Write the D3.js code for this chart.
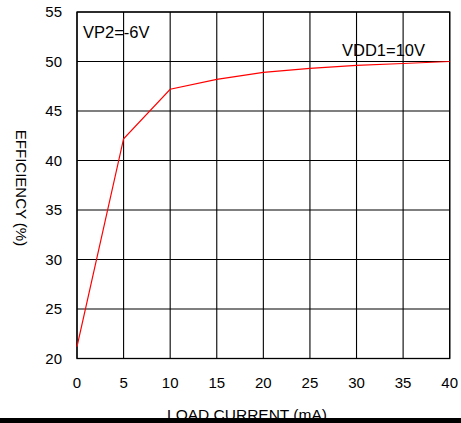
<!DOCTYPE html>
<html>
<head>
<meta charset="utf-8">
<script src="https://cdn.jsdelivr.net/npm/d3@7"></script>
<style>
  body { margin: 0; background: #fff; }
  svg { display: block; font-family: "Liberation Sans", Arial, sans-serif; }
</style>
</head>
<body>
<div id="chart"></div>
<script>
// Data
const loadCurrent = [0, 5, 10, 15, 20, 25, 30, 35, 40];
const efficiency = [21.2, 42.2, 47.2, 48.2, 48.9, 49.3, 49.6, 49.8, 50.0];
const xTicks = [0, 5, 10, 15, 20, 25, 30, 35, 40];
const yTicks = [20, 25, 30, 35, 40, 45, 50, 55];

const width = 461, height = 423;
const margin = { left: 77, right: 11.3, top: 12, bottom: 64.5 };

const svg = d3.select('#chart').append('svg')
    .attr('width', width)
    .attr('height', height);

const x = d3.scaleLinear().domain([0, 40]).range([margin.left, width - margin.right]);
const y = d3.scaleLinear().domain([20, 55]).range([height - margin.bottom, margin.top]);

// Grid
svg.append('g')
    .selectAll('line')
    .data(xTicks)
    .join('line')
    .attr('x1', d => x(d)).attr('x2', d => x(d))
    .attr('y1', y(20)).attr('y2', y(55))
    .attr('stroke', '#000').attr('stroke-width', 1.1);

svg.append('g')
    .selectAll('line')
    .data(yTicks)
    .join('line')
    .attr('x1', x(0)).attr('x2', x(40))
    .attr('y1', d => y(d)).attr('y2', d => y(d))
    .attr('stroke', '#000').attr('stroke-width', 1.1);

// Frame
svg.append('rect')
    .attr('x', x(0)).attr('y', y(55))
    .attr('width', x(40) - x(0)).attr('height', y(20) - y(55))
    .attr('fill', 'none').attr('stroke', '#000').attr('stroke-width', 1.3);

// Tick labels
svg.append('g')
    .selectAll('text')
    .data(yTicks)
    .join('text')
    .attr('x', 62).attr('y', d => y(d))
    .attr('dy', '0.36em')
    .attr('text-anchor', 'end')
    .attr('font-size', 15)
    .text(d => d);

svg.append('g')
    .selectAll('text')
    .data(xTicks)
    .join('text')
    .attr('x', d => x(d)).attr('y', 388)
    .attr('text-anchor', 'middle')
    .attr('font-size', 15)
    .text(d => d);

// Curve
const line = d3.line()
    .x((d, i) => x(loadCurrent[i]))
    .y(d => y(d));

svg.append('path')
    .datum(efficiency)
    .attr('d', line)
    .attr('fill', 'none')
    .attr('stroke', '#ff0000')
    .attr('stroke-width', 1.2);

// Annotations
svg.append('text')
    .attr('x', 83).attr('y', 38)
    .attr('font-size', 16.5)
    .text('VP2=-6V');

svg.append('text')
    .attr('x', 342).attr('y', 56)
    .attr('font-size', 16.5)
    .text('VDD1=10V');

// Axis titles
svg.append('text')
    .attr('transform', 'translate(16,188) rotate(90)')
    .attr('text-anchor', 'middle')
    .attr('font-size', 15)
    .text('EFFICIENCY (%)');

svg.append('text')
    .attr('x', 247).attr('y', 420)
    .attr('text-anchor', 'middle')
    .attr('font-size', 15.5)
    .text('LOAD CURRENT (mA)');

// Black bar at the bottom
svg.append('rect')
    .attr('x', 0).attr('y', 418)
    .attr('width', width).attr('height', height - 418)
    .attr('fill', '#000');
</script>
</body>
</html>
